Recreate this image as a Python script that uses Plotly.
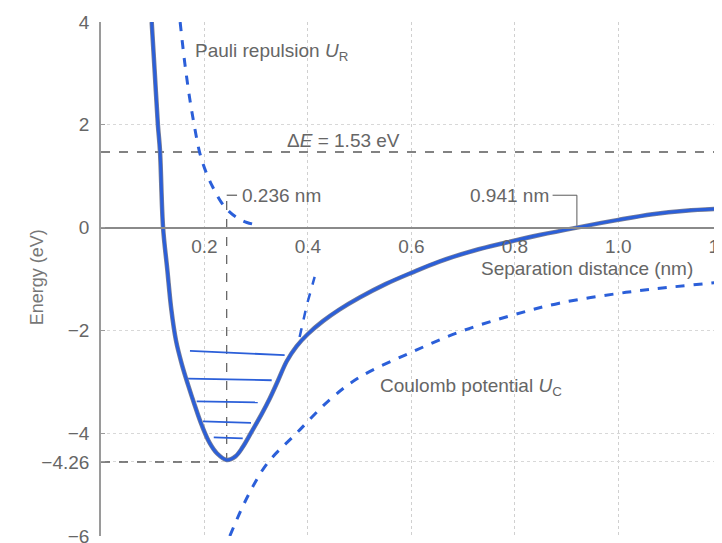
import plotly.graph_objects as go

# ---------------- data ----------------
# total potential energy U (solid)
total_x = [0.098, 0.104, 0.110, 0.114, 0.120, 0.128, 0.136, 0.145, 0.156, 0.168, 0.181, 0.195, 0.210, 0.224, 0.243,
           0.260, 0.274, 0.293, 0.311, 0.326, 0.342, 0.359, 0.378, 0.400, 0.429, 0.460, 0.500, 0.550, 0.600, 0.654,
           0.720, 0.784, 0.850, 0.920, 1.000, 1.066, 1.130, 1.200]
total_y = [4.00, 3.00, 2.00, 1.50, 0.00, -0.80, -1.60, -2.20, -2.65, -3.05, -3.45, -3.85, -4.19, -4.39, -4.52,
           -4.45, -4.27, -3.94, -3.62, -3.33, -2.98, -2.60, -2.31, -2.07, -1.82, -1.60, -1.36, -1.10, -0.88, -0.66,
           -0.45, -0.29, -0.14, 0.00, 0.15, 0.26, 0.33, 0.37]

# Pauli repulsion U_R (dashed)
pauli_x = [0.153, 0.162, 0.172, 0.181, 0.191, 0.203, 0.216, 0.232, 0.249, 0.265, 0.282, 0.307]
pauli_y = [4.00, 3.20, 2.48, 1.95, 1.45, 1.08, 0.79, 0.50, 0.30, 0.18, 0.10, 0.04]

# Coulomb potential U_C (dashed)
coul_x = [0.249, 0.285, 0.322, 0.378, 0.442, 0.500, 0.597, 0.693, 0.790, 0.886, 1.015, 1.100, 1.200]
coul_y = [-6.00, -5.20, -4.58, -4.00, -3.35, -2.91, -2.44, -2.03, -1.72, -1.47, -1.26, -1.16, -1.06]

# short dashed stroke near 0.4 nm
stroke_x = [0.384, 0.398, 0.413]
stroke_y = [-2.13, -1.50, -0.96]

# vibrational levels (left y, right y)
level_y0 = [-2.40, -2.94, -3.38, -3.77, -4.08]
level_y1 = [-2.48, -2.97, -3.40, -3.80, -4.10]
level_x0 = [0.172, 0.168, 0.185, 0.197, 0.218]
level_x1 = [0.355, 0.330, 0.303, 0.290, 0.274]

# reference values
delta_E_level = 1.47
min_x = 0.243
min_y = -4.56
cross_x = 0.920
label_y = 0.63

x_tickvals = [0.2, 0.4, 0.6, 0.8, 1.0, 1.2]
x_ticktext = ["0.2", "0.4", "0.6", "0.8", "1.0", "1.2"]
y_tickvals = [4, 2, 0, -2, -4, min_y, -6]
y_ticktext = ["4", "2", "0", "\u22122", "\u22124", "\u22124.26", "\u22126"]

BLUE = "#2b5fd9"
DGRAY = "#5a5a5a"
TXT = "#666666"
FONT = "Arial"

fig = go.Figure()

# reference dashed lines (gray)
fig.add_trace(go.Scatter(x=[0, 1.21], y=[delta_E_level, delta_E_level], mode="lines",
                         line=dict(color=DGRAY, width=1.5, dash="dash"), hoverinfo="skip"))
fig.add_trace(go.Scatter(x=[0, min_x], y=[min_y, min_y], mode="lines",
                         line=dict(color=DGRAY, width=1.5, dash="dash"), hoverinfo="skip"))
fig.add_trace(go.Scatter(x=[min_x, min_x], y=[min_y, label_y], mode="lines",
                         line=dict(color=DGRAY, width=1.2, dash="dash"), hoverinfo="skip"))
# leader lines
fig.add_trace(go.Scatter(x=[min_x, min_x + 0.02], y=[label_y, label_y], mode="lines",
                         line=dict(color=DGRAY, width=1.2), hoverinfo="skip"))
fig.add_trace(go.Scatter(x=[0.873, cross_x, cross_x], y=[label_y, label_y, 0], mode="lines",
                         line=dict(color=DGRAY, width=1.0), hoverinfo="skip"))

# dashed blue curves
fig.add_trace(go.Scatter(x=pauli_x, y=pauli_y, mode="lines", line_shape="spline",
                         line=dict(color=BLUE, width=3, dash="dash"), hoverinfo="skip"))
fig.add_trace(go.Scatter(x=coul_x, y=coul_y, mode="lines", line_shape="spline",
                         line=dict(color=BLUE, width=3, dash="dash"), hoverinfo="skip"))
fig.add_trace(go.Scatter(x=stroke_x, y=stroke_y, mode="lines",
                         line=dict(color=BLUE, width=2.5, dash="dash"), hoverinfo="skip"))

# vibrational levels
for a, b, ya, yb in zip(level_x0, level_x1, level_y0, level_y1):
    fig.add_trace(go.Scatter(x=[a, b], y=[ya, yb], mode="lines",
                             line=dict(color=BLUE, width=1.8), hoverinfo="skip"))

# total potential curve
fig.add_trace(go.Scatter(x=total_x, y=total_y, mode="lines", line_shape="spline",
                         line=dict(color="#7a7f95", width=4.5), hoverinfo="skip"))
fig.add_trace(go.Scatter(x=total_x, y=total_y, mode="lines", line_shape="spline",
                         line=dict(color=BLUE, width=3), hoverinfo="skip"))

annotations = [
    dict(x=0.178, y=3.42, text="Pauli repulsion <i>U</i><sub>R</sub>", xanchor="left"),
    dict(x=0.355, y=1.70, text="\u0394<i>E</i> = 1.53 eV", xanchor="left"),
    dict(x=min_x + 0.025, y=label_y, text="0.236 nm", xanchor="left"),
    dict(x=0.870, y=label_y, text="0.941 nm", xanchor="right"),
    dict(x=0.730, y=-0.80, text="Separation distance (nm)", xanchor="left"),
    dict(x=0.535, y=-3.10, text="Coulomb potential <i>U</i><sub>C</sub>", xanchor="left"),
]
for a in annotations:
    a.update(xref="x", yref="y", showarrow=False, yanchor="middle",
             font=dict(family=FONT, size=19, color=TXT))
    fig.add_annotation(**a)

fig.add_annotation(xref="paper", yref="paper", x=-0.122, y=0.504, text="Energy (eV)",
                   textangle=-90, showarrow=False, font=dict(family=FONT, size=18, color="#777777"))

# page body has an 8 px default margin; margins below compensate for it
fig.update_layout(
    width=722, height=543,
    margin=dict(l=93, r=8, t=14, b=15, autoexpand=False),
    paper_bgcolor="white", plot_bgcolor="white",
    showlegend=False,
    font=dict(family=FONT, size=19, color=TXT),
    xaxis=dict(range=[0, 1.2005], tickvals=x_tickvals, ticktext=x_ticktext, automargin=False,
               anchor="free", position=0.6, showline=True, linecolor="#8a8a8a", linewidth=1.5,
               showgrid=True, gridcolor="#d0d0d0", griddash="dot", gridwidth=1,
               zeroline=False, ticks="", tickfont=dict(family=FONT, size=19, color=TXT),
               ticklabelstandoff=2, ticklabeloverflow="allow"),
    yaxis=dict(range=[-6, 4], tickvals=y_tickvals, ticktext=y_ticktext, automargin=False,
               showline=True, linecolor="#9a9a9a", linewidth=1.5,
               showgrid=True, gridcolor="#d8d8d8", griddash="dot", gridwidth=1,
               zeroline=False, ticks="inside", ticklen=4, tickcolor="#9a9a9a",
               tickfont=dict(family=FONT, size=19, color=TXT), ticklabelstandoff=6),
)

fig.write_html("out.html")
